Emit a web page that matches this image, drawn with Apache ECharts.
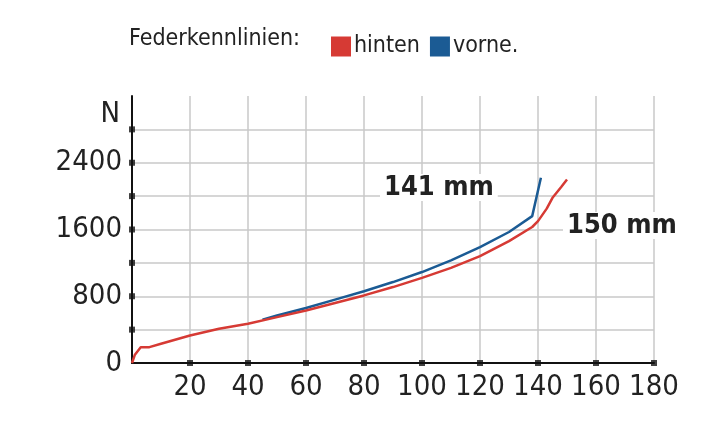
<!DOCTYPE html>
<html>
<head>
<meta charset="utf-8">
<title>Federkennlinien</title>
<script src="https://cdn.jsdelivr.net/npm/echarts@6/dist/echarts.min.js"></script>
<style>html,body{margin:0;padding:0;background:#fff}</style>
</head>
<body>
<div id="main" style="width:712px;height:433px;"></div>
<script>
// Federweg in mm / Kraft in N
var hintenWeg = [0, 1, 3, 6, 10, 20, 30, 40, 50, 60, 70, 80, 90, 100, 110, 120, 130, 138, 140, 143, 145, 148, 150];
var hintenKraft = [0, 100, 190, 190, 230, 330, 410, 470, 550, 630, 720, 810, 910, 1020, 1140, 1280, 1460, 1630, 1700, 1850, 1980, 2110, 2200];
var vorneWeg = [45, 50, 60, 70, 80, 90, 100, 110, 120, 130, 138, 141];
var vorneKraft = [520, 570, 660, 760, 860, 970, 1090, 1230, 1390, 1570, 1760, 2220];
var yLabels = [0, 800, 1600, 2400];

var font = "'DejaVu Sans Condensed', 'Liberation Sans', sans-serif";
function pairs(xs, ys) { return xs.map(function (x, i) { return [x, ys[i]]; }); }

var chart = echarts.init(document.getElementById('main'));
chart.setOption({
	animation: false,
	textStyle: { fontFamily: font },
	legend: {
		left: 326, top: 30, itemWidth: 20, itemHeight: 20, itemGap: 10,
		icon: 'rect',
		textStyle: { fontSize: 23, color: '#222', fontFamily: font, padding: [0, 0, 0, -2] },
		data: ['hinten', 'vorne.']
	},
	graphic: [
		{ type: 'text', left: 129, top: 28, style: { text: 'Federkennlinien:', fontSize: 23, fill: '#222', fontFamily: font } },
		{ type: 'text', left: 380, top: 174, z: 10, style: { text: '141 mm', fontSize: 27, fontWeight: 'bold', fill: '#222', fontFamily: font, backgroundColor: '#fff', padding: [0, 4] } },
		{ type: 'text', left: 563, top: 212, z: 10, style: { text: '150 mm', fontSize: 27, fontWeight: 'bold', fill: '#222', fontFamily: font, backgroundColor: '#fff', padding: [0, 4] } }
	],
	grid: { left: 132, right: 58, top: 96, bottom: 70 },
	xAxis: {
		type: 'value', min: 0, max: 180, interval: 20,
		axisLine: { lineStyle: { color: '#111', width: 2 } },
		axisTick: { show: false },
		axisLabel: { fontSize: 29, color: '#222', margin: 10, formatter: function (v) { return v === 0 ? '' : v; } },
		splitLine: { lineStyle: { color: '#c8c8c8', width: 1.5 } }
	},
	yAxis: {
		type: 'value', min: 0, max: 3200, interval: 400,
		name: 'N', nameLocation: 'end', nameGap: -4,
		nameTextStyle: { fontSize: 29, color: '#222', align: 'right', padding: [0, 12, 0, 0], verticalAlign: 'top' },
		axisLine: { show: true, lineStyle: { color: '#111', width: 2 } },
		axisTick: { show: false },
		axisLabel: { fontSize: 29, color: '#222', margin: 10, formatter: function (v) { return yLabels.indexOf(v) >= 0 ? v : ''; } },
		splitLine: { lineStyle: { color: ['#c8c8c8', '#c8c8c8', '#c8c8c8', '#c8c8c8', '#c8c8c8', '#c8c8c8', '#c8c8c8', '#c8c8c8', 'rgba(0,0,0,0)'], width: 1.5 } }
	},
	series: [
		{
			name: 'hinten', type: 'line', data: pairs(hintenWeg, hintenKraft),
			showSymbol: false, itemStyle: { color: '#d63a34' }, lineStyle: { width: 2.5, color: '#d63a34' }, z: 3
		},
		{
			name: 'vorne.', type: 'line', data: pairs(vorneWeg, vorneKraft),
			showSymbol: false, itemStyle: { color: '#1b5b94' }, lineStyle: { width: 2.5, color: '#1b5b94' }, z: 2
		},
		{
			// Achsmarken
			type: 'scatter', symbol: 'rect', symbolSize: 6, silent: true,
			itemStyle: { color: '#111' }, z: 4,
			data: [[0, 400], [0, 800], [0, 1200], [0, 1600], [0, 2000], [0, 2400], [0, 2800],
				[20, 0], [40, 0], [60, 0], [80, 0], [100, 0], [120, 0], [140, 0], [160, 0], [180, 0]]
		}
	]
});
</script>
</body>
</html>
